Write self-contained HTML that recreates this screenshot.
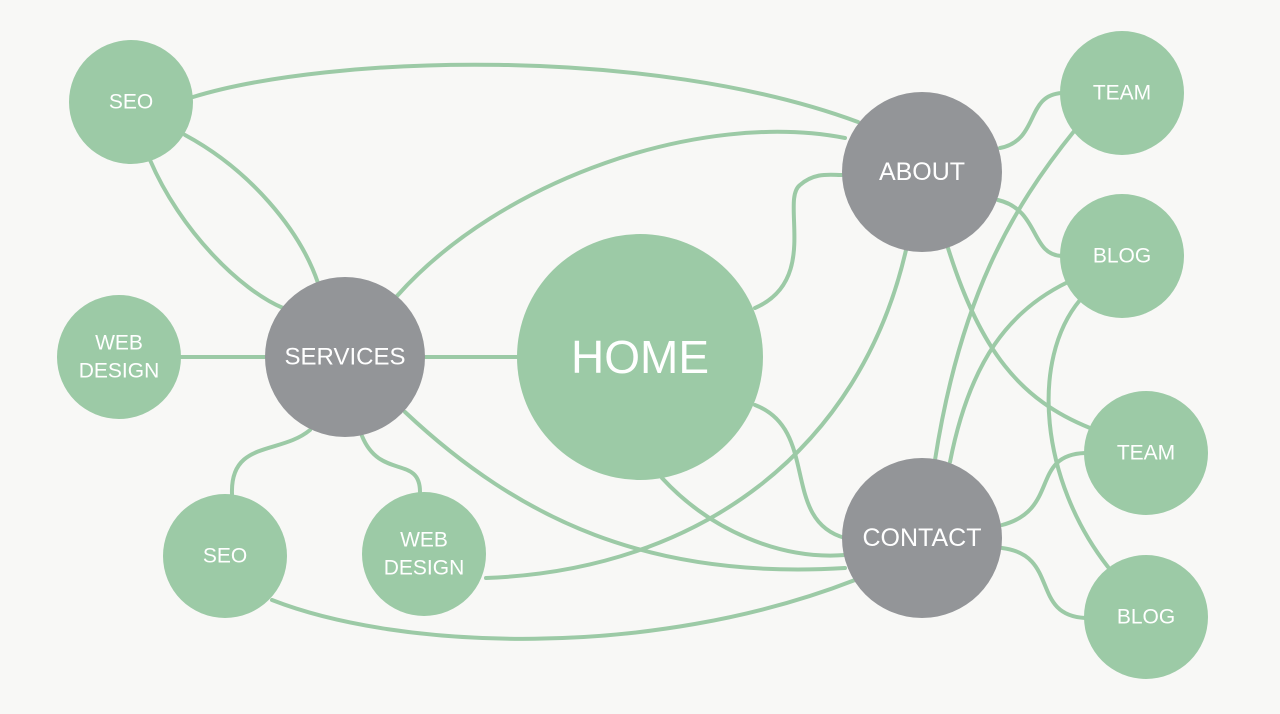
<!DOCTYPE html>
<html><head><meta charset="utf-8"><style>
html,body{margin:0;padding:0;background:#f8f8f6;}
svg{display:block}
text{font-family:"Liberation Sans",sans-serif;fill:#fff;text-anchor:middle;dominant-baseline:central}
</style></head><body>
<svg width="1280" height="714" viewBox="0 0 1280 714">
<rect width="1280" height="714" fill="#f8f8f6"/>
<g fill="none" stroke="#9ccaa6" stroke-width="4" stroke-linecap="round">
<path d="M193 97 C330 55 650 45 858 122"/>
<path d="M185 135 C250 170 300 230 318 283"/>
<path d="M150 160 C180 230 240 290 283 308"/>
<path d="M181 357 L265 357"/>
<path d="M425 357 L517 357"/>
<path d="M397 296 C500 180 700 110 845 138"/>
<path d="M310 430 C280 455 230 440 232 494"/>
<path d="M362 436 C380 480 420 455 420 492"/>
<path d="M405 412 C520 520 650 580 845 568"/>
<path d="M755 308 C820 280 780 200 800 185 C815 172 830 175 842 175"/>
<path d="M755 405 C820 430 780 520 845 538"/>
<path d="M662 478 C710 530 780 560 845 555"/>
<path d="M486 578 C700 570 860 450 906 250"/>
<path d="M272 600 C400 650 650 660 855 580"/>
<path d="M1000 148 C1040 140 1025 95 1062 93"/>
<path d="M998 200 C1040 210 1030 255 1062 256"/>
<path d="M948 248 C980 350 1020 400 1090 428"/>
<path d="M935 460 C960 300 1010 210 1075 130"/>
<path d="M950 462 C970 360 1010 310 1068 282"/>
<path d="M1002 525 C1060 510 1030 455 1085 453"/>
<path d="M1002 548 C1060 555 1030 615 1085 618"/>
<path d="M1080 300 C1030 360 1040 480 1108 567"/>
</g>
<g fill="#9ccaa6">
<circle cx="131" cy="102" r="62"/>
<circle cx="119" cy="357" r="62"/>
<circle cx="640" cy="357" r="123"/>
<circle cx="225" cy="556" r="62"/>
<circle cx="424" cy="554" r="62"/>
<circle cx="1122" cy="93" r="62"/>
<circle cx="1122" cy="256" r="62"/>
<circle cx="1146" cy="453" r="62"/>
<circle cx="1146" cy="617" r="62"/>
</g>
<g fill="#939598">
<circle cx="345" cy="357" r="80"/>
<circle cx="922" cy="172" r="80"/>
<circle cx="922" cy="538" r="80"/>
</g>
<text x="131" y="102" font-size="21">SEO</text>
<text x="119" y="343" font-size="21">WEB</text>
<text x="119" y="371" font-size="21">DESIGN</text>
<text x="345" y="357" font-size="24">SERVICES</text>
<text x="640" y="357" font-size="46">HOME</text>
<text x="922" y="172" font-size="25">ABOUT</text>
<text x="922" y="538" font-size="25">CONTACT</text>
<text x="225" y="556" font-size="21">SEO</text>
<text x="424" y="540" font-size="21">WEB</text>
<text x="424" y="568" font-size="21">DESIGN</text>
<text x="1122" y="93" font-size="21">TEAM</text>
<text x="1122" y="256" font-size="21">BLOG</text>
<text x="1146" y="453" font-size="21">TEAM</text>
<text x="1146" y="617" font-size="21">BLOG</text>
</svg>
</body></html>
